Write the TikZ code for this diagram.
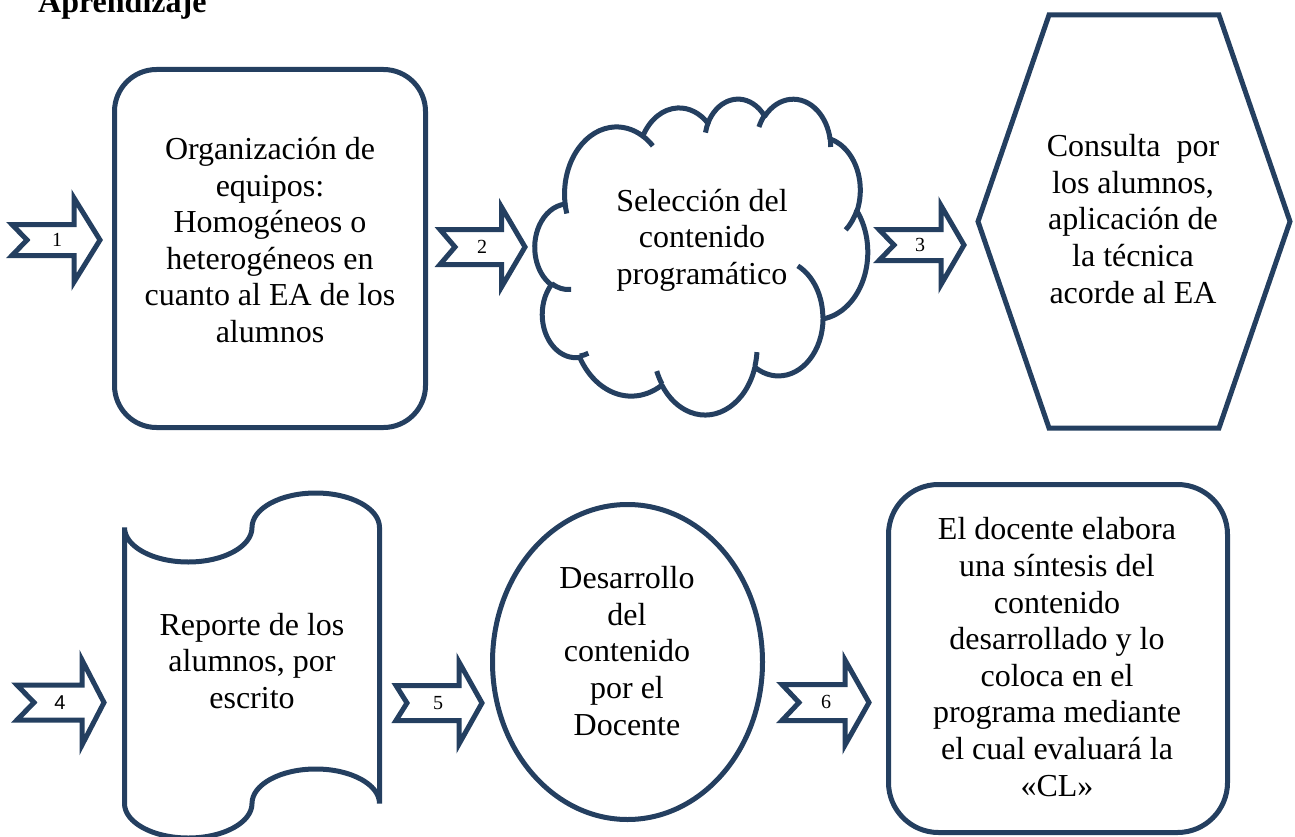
\documentclass[tikz,border=0pt]{standalone}
\usepackage{fontspec}
\setmainfont{Liberation Serif}
\newfontfamily\labsans{Liberation Sans}
\definecolor{navy}{RGB}{36,63,96}
\def\carc#1#2#3#4{arc[start angle={ooang(#3,#1,#2)}, end angle={ooang((#3)+(#4),#1,#2)}, x radius=#1, y radius=#2]}
\newcommand\blockarrow[7]{%
  \draw[shapeline, line join=miter] (#1,#5-#6) -- (#3,#5-#6) -- (#3,#5-#7) -- (#4,#5)
    -- (#3,#5+#7) -- (#3,#5+#6) -- (#1,#5+#6) -- (#2,#5) -- cycle;}
\begin{document}
\begin{tikzpicture}[x=1pt,y=1pt,yscale=-1,
  declare function={ooang(\ta,\wr,\hr)=(\ta)+mod(atan2((\wr)*sin(\ta),(\hr)*cos(\ta))-(\ta)+540,360)-180;},
  shapeline/.style={draw=navy, line width=5pt},
  maintext/.style={font=\fontsize{32}{36.6}\selectfont, align=center, text=black, inner sep=0pt},
  numlabel/.style={font=\fontsize{20}{24}\selectfont, inner sep=0pt}]
\useasboundingbox (0,0) rectangle (1295,837);

% title
\node[anchor=base west, inner sep=0pt, font=\fontsize{32}{36}\selectfont\bfseries] (title) at (38,13) {Aprendizaje};

% ---------- row 1 ----------
\blockarrow{12}{27}{74}{100}{240}{15.5}{42}
\node[numlabel] (n1) at (57,240) {1};

\draw[shapeline, rounded corners=42pt] (114.5,69.5) rectangle (425.5,427.5);
\node[maintext] (t1) at (270,240) {Organización de\\equipos:\\Homogéneos o\\heterogéneos en\\cuanto al EA de los\\alumnos};

\blockarrow{440}{455}{501.5}{525}{247}{17.5}{40}
\node[numlabel] (n2) at (482,247) {2};

% cloud
\begin{scope}[shift={(535,98.1)}, xscale=0.770, yscale=0.731]
\draw[shapeline, line join=round] (39.00,143.70)
  \carc{67.53}{91.90}{-190.48748}{123.78053}
  \carc{53.33}{72.67}{-144.10238}{89.94523}
  \carc{43.65}{59.45}{-145.80792}{99.72302}
  \carc{48.57}{65.95}{-130.98607}{117.24173}
  \carc{53.33}{72.73}{-78.70888}{109.02692}
  \carc{67.75}{92.20}{-46.26725}{130.269}
  \carc{57.85}{78.67}{0.62502}{114.03333}
  \carc{67.52}{92.15}{22.4516}{115.17255}
  \carc{77.20}{105.43}{66.24263}{75.71102}
  \carc{43.60}{59.18}{-274.94208}{146.73557}
  \carc{43.45}{59.45}{-246.8285}{152.51885}
  -- cycle;
\draw[navy, line width=5pt]
  (46.93,261.77) \carc{43.45}{59.45}{86.742}{26.4295}
  (69.28,348.99) \carc{43.60}{59.18}{73.61047}{11.44747}
  (164.78,390.90) \carc{67.52}{92.15}{137.62415}{14.0811}
  (288.27,347.51) \carc{67.52}{92.15}{6.45327}{15.99835}
  (341.29,229.54) \carc{57.85}{78.67}{-70.29235}{70.91737}
  (417.98,153.54) \carc{53.33}{72.73}{30.31803}{27.7515}
  (383.24,54.26) \carc{48.57}{65.95}{-13.74433}{14.8589}
  (290.78,39.52) \carc{48.57}{65.95}{-149.18145}{18.19537}
  (221.41,47.20) \carc{43.65}{59.45}{-163.49427}{17.68635}
  (140.00,51.92) \carc{67.53}{91.90}{-66.70695}{12.31935}
  (41.27,157.89) \carc{67.53}{91.90}{157.65435}{11.85817};
\end{scope}
\node[maintext] (t2) at (702,240) {Selección del\\contenido\\programático};

\blockarrow{879}{894}{941}{964}{245}{15.5}{39.5}
\node[numlabel] (n3) at (920,245) {3};

\draw[shapeline, line join=miter] (1049,15) -- (1219,15) -- (1290,221.5) -- (1219,428) -- (1049,428) -- (978,221.5) -- cycle;
\node[maintext] (t3) at (1133,219) {Consulta\ \ por\\los alumnos,\\aplicación de\\la técnica\\acorde al EA};

% ---------- row 2 ----------
\blockarrow{17}{34}{82}{104}{702.5}{17.5}{42.5}
\node[numlabel, font=\fontsize{20}{24}\selectfont\labsans] (n4) at (60,703) {4};

\draw[shapeline] (124.5,527.5)
  arc[start angle=180, end angle=0, x radius=63.75, y radius=34.5]
  arc[start angle=180, end angle=360, x radius=63.75, y radius=34.5]
  -- (379.5,803.5)
  arc[start angle=0, end angle=-180, x radius=63.75, y radius=34.5]
  arc[start angle=0, end angle=180, x radius=63.75, y radius=34.5]
  -- cycle;
\node[maintext] (t4) at (252,661) {Reporte de los\\alumnos, por\\escrito};

\blockarrow{396}{407}{459}{482}{703}{17.5}{41}
\node[numlabel] (n5) at (438,703) {5};

\draw[shapeline] (627.5,662) ellipse [x radius=135, y radius=157.5];
\node[maintext] (t5) at (627,651) {Desarrollo\\del\\contenido\\por el\\Docente};

\blockarrow{782}{799}{845}{869}{702.5}{18}{42.5}
\node[numlabel] (n6) at (826,702) {6};

\draw[shapeline, rounded corners=50pt] (888.5,484.5) rectangle (1227.5,832.5);
\node[maintext] (t6) at (1057,657) {El docente elabora\\una síntesis del\\contenido\\desarrollado y lo\\coloca en el\\programa mediante\\el cual evaluará la\\«CL»};
\end{tikzpicture}
\end{document}
